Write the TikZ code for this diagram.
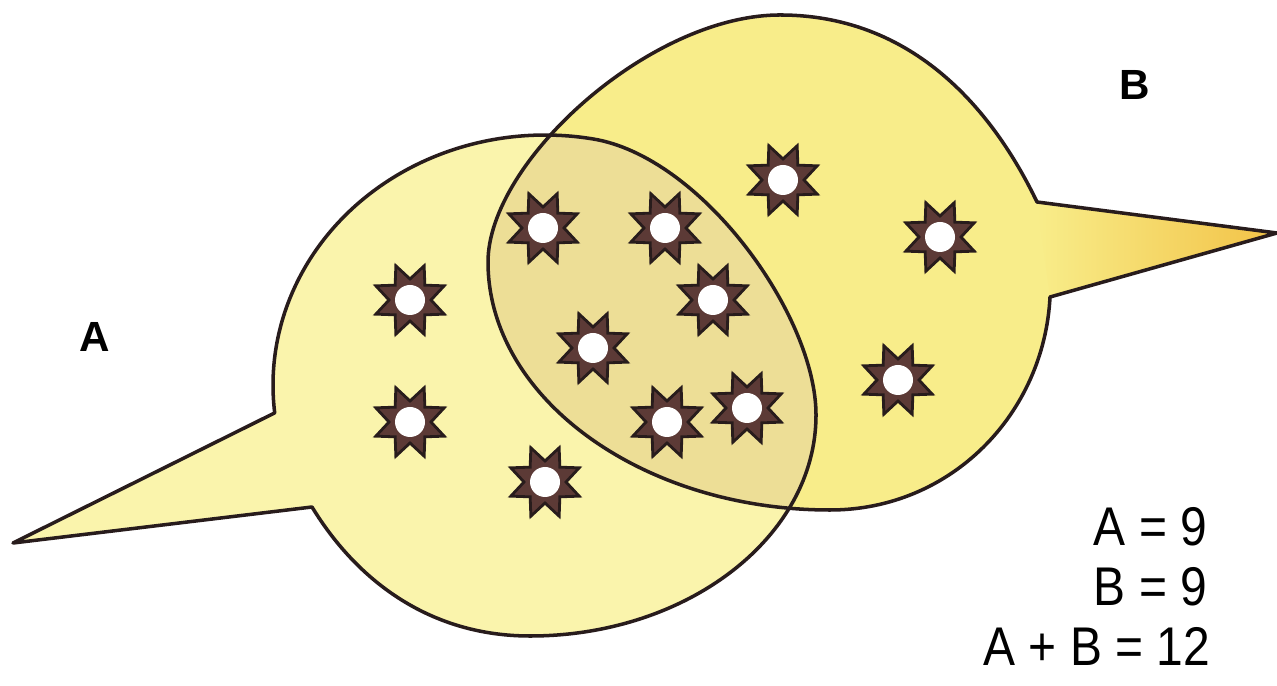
\documentclass[tikz,border=0pt]{standalone}
\usepackage{fontspec}
\setmainfont{Liberation Sans}
\newfontfamily\eqfont[FakeStretch=0.88]{Liberation Sans}
\usetikzlibrary{calc}

\definecolor{afill}{RGB}{250,244,172}
\definecolor{bfill}{RGB}{248,237,138}
\definecolor{lensfill}{RGB}{237,222,150}
\definecolor{tipfill}{RGB}{242,194,70}
\definecolor{ink}{RGB}{40,28,28}
\definecolor{starfill}{RGB}{92,58,54}

\tikzset{
  outline/.style={line width=1pt,draw=ink,line join=round},
  eqtext/.style={font=\eqfont\fontsize{15.5}{18}\selectfont,anchor=base east,inner sep=0pt},
  labtext/.style={font=\bfseries\fontsize{12}{14}\selectfont},
  sunstar/.pic={
    \fill[starfill,draw=ink,line width=0.8pt,line join=miter]
      (22.5:37) \foreach \k in {0,...,7}{ -- ({\k*45+22.5}:37) -- ({\k*45+45}:21)} -- cycle;
    \fill[white] (0,0) circle (15);
  }
}

% the two balloons, in pixel units
\def\bubbleA{(274.7,412.9) arc[start angle=173.6,end angle=280,x radius=272,y radius=250]
  .. controls (701,156) and (816,315) .. (816,415)
  .. controls (816,537) and (687,636) .. (530,636)
  .. controls (433,636) and (359,584) .. (312,507) -- (13,543) -- cycle}
\def\bubbleB{(1050,297) .. controls (1044,414) and (951,510) .. (830,510)
  .. controls (642,510) and (488,398) .. (488,262)
  .. controls (488,162) and (650,15) .. (780,15)
  .. controls (921,15) and (998,121) .. (1037,202) -- (1277,233) -- cycle}

\begin{document}
\begin{tikzpicture}[x=0.01cm,y=-0.01cm]
  \useasboundingbox (0,0) rectangle (1277,686);

  \fill[afill] \bubbleA;
  \fill[bfill] \bubbleB;
  \begin{scope}
    \clip \bubbleA;
    \fill[lensfill] \bubbleB;
  \end{scope}
  \shade[left color=bfill,right color=tipfill] (1037,202) -- (1277,233) -- (1050,297) -- cycle;
  \draw[outline] \bubbleA;
  \draw[outline] \bubbleB;

  % elements
  \foreach \p [count=\i] in {(410,300),(410,422),(545,482),(543,228),(665,228),(713,300),
      (593,348),(667,422),(747,408),(783,180),(940,237),(898,380)}
    \path \p coordinate (s\i) pic {sunstar};

  \node[labtext] (labA) at (95,337) {A};
  \node[labtext] (labB) at (1135,85) {B};

  \node[eqtext] (eqA) at (1208,545) {A = 9};
  \node[eqtext] (eqB) at (1208,605) {B = 9};
  \node[eqtext] (eqAB) at (1211,665) {A + B = 12};
\end{tikzpicture}
\end{document}
